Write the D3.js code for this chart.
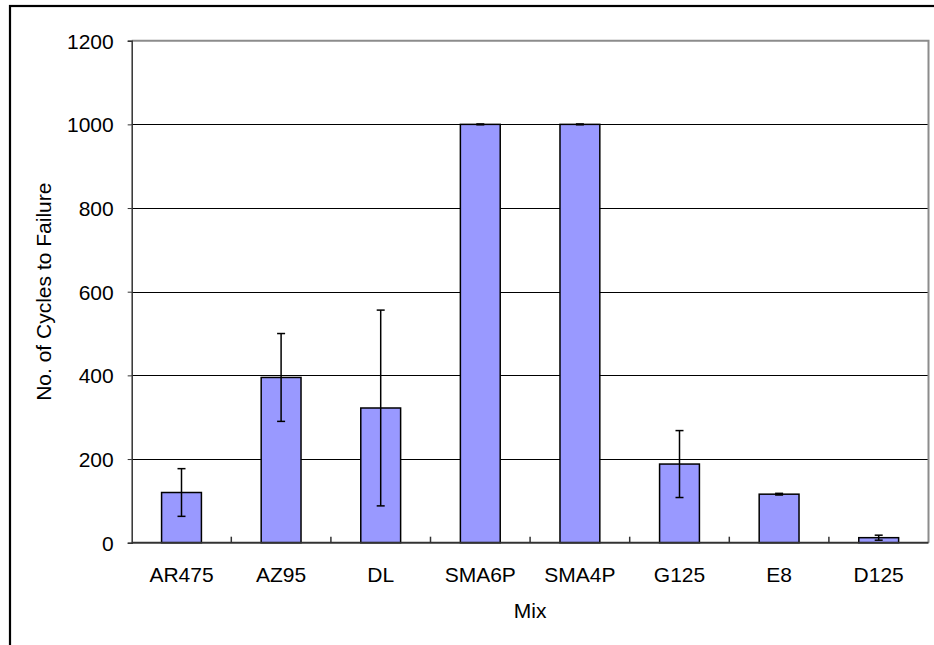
<!DOCTYPE html>
<html>
<head>
<meta charset="utf-8">
<script src="https://cdn.jsdelivr.net/npm/d3@7"></script>
<style>
  html, body { margin: 0; padding: 0; background: #fff; }
  svg { display: block; }
  text { font-family: "Liberation Sans", Arial, sans-serif; fill: #000; }
</style>
</head>
<body>
<svg id="chart" width="934" height="645"></svg>
<script>
const categories = ["AR475", "AZ95", "DL", "SMA6P", "SMA4P", "G125", "E8", "D125"];
const values = [120, 395, 322, 1000, 1000, 188, 116, 12];
const errors = [57, 105, 234, 1, 1, 80, 2, 6];
const yTicks = [0, 200, 400, 600, 800, 1000, 1200];
const xTitle = "Mix";
const yTitle = "No. of Cycles to Failure";

const svg = d3.select("#chart");
const W = 934, H = 645;
const m = { left: 131.7, right: W - 928.5, top: 40.7, bottom: H - 542.7 };
const fs = 21;

svg.append("rect").attr("width", W).attr("height", H).attr("fill", "#fff");
// outer frame
svg.append("rect").attr("x", 10).attr("y", 6).attr("width", 1000).attr("height", 1000)
  .attr("fill", "none").attr("stroke", "#000").attr("stroke-width", 2.2);

const x = d3.scaleBand().domain(categories).range([m.left, W - m.right]).paddingInner(0).paddingOuter(0);
const y = d3.scaleLinear().domain([0, 1200]).range([H - m.bottom, m.top]);

// gridlines
svg.append("g").selectAll("line").data(yTicks.filter(d => d > 0 && d < 1200)).join("line")
  .attr("x1", m.left).attr("x2", W - m.right)
  .attr("y1", d => Math.round(y(d)) + 0.5).attr("y2", d => Math.round(y(d)) + 0.5)
  .attr("stroke", "#000").attr("stroke-width", 1);

// plot area top/right border (gray)
svg.append("path")
  .attr("d", `M${m.left},${y(1200)}H${W - m.right}V${y(0)}`)
  .attr("fill", "none").attr("stroke", "#8c8c8c").attr("stroke-width", 2);

// bars
const bw = x.bandwidth() * 0.4;
const cx = d => x(d) + x.bandwidth() / 2;
svg.append("g").selectAll("rect").data(categories).join("rect")
  .attr("x", d => cx(d) - bw / 2)
  .attr("y", (d, i) => y(values[i]))
  .attr("width", bw)
  .attr("height", (d, i) => y(0) - y(values[i]))
  .attr("fill", "#9999FF").attr("stroke", "#000").attr("stroke-width", 1.5);

// error bars
const eg = svg.append("g").attr("stroke", "#000").attr("stroke-width", 1.5);
categories.forEach((c, i) => {
  const hi = y(values[i] + errors[i]), lo = y(values[i] - errors[i]);
  eg.append("line").attr("x1", cx(c)).attr("x2", cx(c)).attr("y1", hi).attr("y2", lo);
  eg.append("line").attr("x1", cx(c) - 4).attr("x2", cx(c) + 4).attr("y1", hi).attr("y2", hi);
  eg.append("line").attr("x1", cx(c) - 4).attr("x2", cx(c) + 4).attr("y1", lo).attr("y2", lo);
});

// y axis
const yAxis = d3.axisLeft(y).tickValues(yTicks).tickSize(4).tickPadding(14).tickFormat(d3.format("d"));
const yg = svg.append("g").attr("transform", `translate(${m.left},0)`).call(yAxis);
yg.select(".domain").attr("stroke", "#333").attr("stroke-width", 1.5);
yg.selectAll(".tick line").attr("stroke", "#333");
yg.selectAll(".tick text").style("font-size", fs + "px").attr("font-family", null).attr("dy", "0.35em");

// x axis (ticks inward at category boundaries)
const xg = svg.append("g").attr("transform", `translate(0,${y(0)})`);
xg.append("line").attr("x1", m.left).attr("x2", W - m.right).attr("y1", 0).attr("y2", 0)
  .attr("stroke", "#333").attr("stroke-width", 2);
xg.selectAll("line.tk").data(categories.slice(1)).join("line").attr("class", "tk")
  .attr("x1", d => x(d)).attr("x2", d => x(d)).attr("y1", 0).attr("y2", -6)
  .attr("stroke", "#333").attr("stroke-width", 1.5);
xg.selectAll("text").data(categories).join("text")
  .attr("x", d => cx(d)).attr("y", 39.5).attr("text-anchor", "middle")
  .style("font-size", fs + "px").text(d => d);

// titles
svg.append("text").attr("x", (m.left + W - m.right) / 2).attr("y", 618)
  .attr("text-anchor", "middle").style("font-size", fs + "px").text(xTitle);
svg.append("text").attr("transform", `translate(51,${(m.top + H - m.bottom) / 2}) rotate(-90)`)
  .attr("text-anchor", "middle").style("font-size", fs + "px").text(yTitle);
</script>
</body>
</html>
